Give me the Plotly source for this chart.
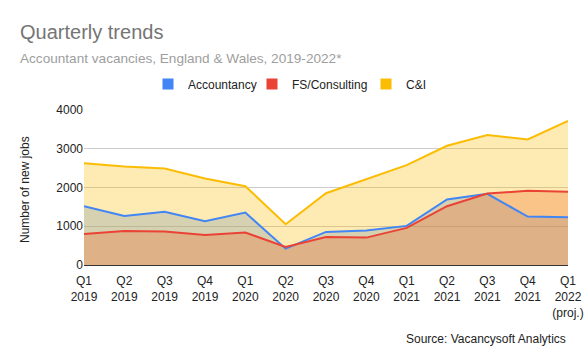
import plotly.graph_objects as go

quarters = ["Q1 2019", "Q2 2019", "Q3 2019", "Q4 2019", "Q1 2020", "Q2 2020", "Q3 2020",
            "Q4 2020", "Q1 2021", "Q2 2021", "Q3 2021", "Q4 2021", "Q1 2022"]
tick_labels = ["Q1<br>2019", "Q2<br>2019", "Q3<br>2019", "Q4<br>2019", "Q1<br>2020", "Q2<br>2020",
               "Q3<br>2020", "Q4<br>2020", "Q1<br>2021", "Q2<br>2021", "Q3<br>2021", "Q4<br>2021",
               "Q1<br>2022<br>(proj.)"]
accountancy = [1517, 1267, 1371, 1129, 1353, 422, 853, 888, 1009, 1690, 1836, 1250, 1233]
fs_consulting = [802, 879, 862, 776, 836, 466, 724, 707, 957, 1517, 1845, 1914, 1888]
c_and_i = [2629, 2543, 2491, 2233, 2034, 1052, 1853, 2216, 2578, 3078, 3353, 3241, 3716]

series = [
    ("Accountancy", accountancy, "#4285F4", "rgba(66,133,244,0.3)"),
    ("FS/Consulting", fs_consulting, "#EA4335", "rgba(234,67,53,0.3)"),
    ("C&I", c_and_i, "#FBBC04", "rgba(251,188,4,0.3)"),
]
legend_ids = ["legend", "legend2", "legend3"]
legend_left_px = [148, 252, 366]

W, H = 586, 364
fig = go.Figure()
# fills first
for name, vals, col, fillcol in series:
    fig.add_trace(go.Scatter(x=quarters, y=vals, mode="lines", name=name,
                             line=dict(color="rgba(0,0,0,0)", width=0), fill="tozeroy",
                             fillcolor=fillcol, showlegend=False, hoverinfo="skip"))
# lines on top
for name, vals, col, fillcol in series:
    fig.add_trace(go.Scatter(x=quarters, y=vals, mode="lines", name=name,
                             line=dict(color=col, width=2), showlegend=False))
# legend entries
for (name, vals, col, fillcol), lid in zip(series, legend_ids):
    fig.add_trace(go.Scatter(x=[None], y=[None], mode="markers", name=name, legend=lid,
                             marker=dict(symbol="square", size=11, color=col)))

# plot area in pixels: x 84..568, y 110..265
L, R, T, B = 84, 568, 110, 265
def px(x):
    return (x - L) / (R - L)
def py(y):
    return (B - y) / (B - T)

font_family = "Liberation Sans, Arial, sans-serif"
legend_common = dict(orientation="h", xanchor="left", xref="container",
                     y=1 - 84 / H, yref="container", yanchor="middle",
                     font=dict(size=12, color="#222222"), bgcolor="rgba(0,0,0,0)",
                     borderwidth=0)
layout_legends = {}
for lid, lx in zip(legend_ids, legend_left_px):
    layout_legends[lid] = dict(legend_common, x=lx / W)

fig.update_layout(
    template="none",
    width=W, height=H,
    margin=dict(l=L, r=W - R, t=T, b=H - B, autoexpand=False),
    paper_bgcolor="white", plot_bgcolor="white",
    font=dict(family=font_family, size=12, color="#222222"),
    showlegend=True,
    xaxis=dict(type="category", tickvals=quarters, ticktext=tick_labels,
               showgrid=False, showline=True, linecolor="#333333", linewidth=1,
               ticks="", tickfont=dict(size=12, color="#222222"), range=[0, 12],
               zeroline=False, automargin=False, ticklabelstandoff=5),
    yaxis=dict(range=[0, 4000], tickvals=[0, 1000, 2000, 3000, 4000],
               showgrid=True, gridcolor="#cccccc", gridwidth=1, zeroline=False,
               ticks="", tickfont=dict(size=12, color="#222222"), automargin=False,
               showline=False),
    annotations=[
        dict(text="Quarterly trends", xref="paper", yref="paper",
             x=px(18), y=py(32), xanchor="left", yanchor="middle",
             showarrow=False, font=dict(size=20, color="#757575", family=font_family)),
        dict(text="Accountant vacancies, England & Wales, 2019-2022*", xref="paper",
             yref="paper", x=px(18), y=py(59), xanchor="left", yanchor="middle",
             showarrow=False, font=dict(size=13.6, color="#9e9e9e", family=font_family)),
        dict(text="Number of new jobs", xref="paper", yref="paper",
             x=px(25), y=py(190), xanchor="center", yanchor="middle", textangle=-90,
             showarrow=False, font=dict(size=12, color="#222222", family=font_family)),
        dict(text="Source: Vacancysoft Analytics", xref="paper", yref="paper",
             x=px(568), y=py(339), xanchor="right", yanchor="middle",
             showarrow=False, font=dict(size=12, color="#222222", family=font_family)),
    ],
    **layout_legends,
)

fig.write_html("out.html", config={"displayModeBar": False},
               post_script="document.body.style.margin='0';")
